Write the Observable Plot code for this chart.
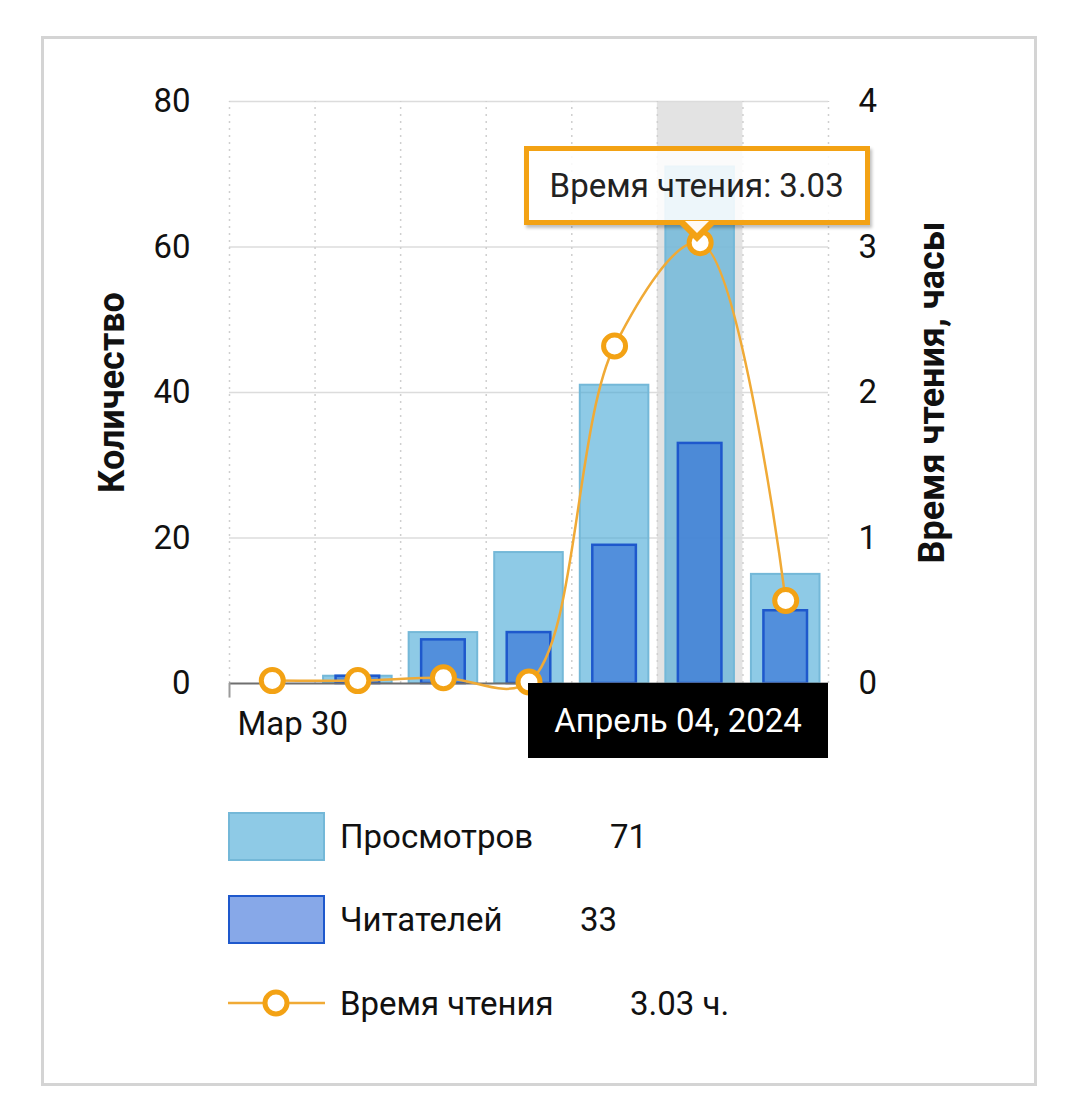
<!DOCTYPE html>
<html><head><meta charset="utf-8">
<script src="https://cdn.jsdelivr.net/npm/d3@7"></script>
<script src="https://cdn.jsdelivr.net/npm/@observablehq/plot@0.6"></script>
<style>
body{margin:0;background:#fff;font-family:Roboto,"Noto Sans",sans-serif;color:#222;}
#wrap{position:relative;width:1079px;height:1108px;overflow:hidden;}
#card{position:absolute;left:41px;top:36px;width:996px;height:1050px;border:3px solid #d4d4d4;box-sizing:border-box;}
#chart{position:absolute;left:0;top:0;}
.tip{position:absolute;box-sizing:border-box;border:5px solid #f3a214;background:rgba(255,255,255,0.86);font-size:33px;color:#222;display:flex;align-items:center;justify-content:center;box-shadow:2px 3px 3px rgba(0,0,0,0.25);}
.tip:before{content:"";position:absolute;left:50%;bottom:-22px;margin-left:-19px;border-left:19px solid transparent;border-right:19px solid transparent;border-top:19px solid #f3a214;}
.tip:after{content:"";position:absolute;left:50%;bottom:-13px;margin-left:-12px;border-left:12px solid transparent;border-right:12px solid transparent;border-top:12px solid rgba(255,255,255,0.95);}
.datebox{position:absolute;background:#000;color:#fff;font-size:33px;display:flex;align-items:center;justify-content:center;box-sizing:border-box;}
.legend{position:absolute;left:228px;top:0;font-size:33px;color:#111;}
.row{position:absolute;left:0;height:50px;display:flex;align-items:center;white-space:nowrap;}
.sw{position:absolute;left:0;width:97px;height:49px;box-sizing:border-box;}
.lab{position:absolute;left:112px;}
</style>
</head><body>
<div id="wrap"><div id="card"></div><div id="chart"></div></div>
<script>
// ---- data ----
const dates = ["Мар 30", "Мар 31", "Апр 01", "Апр 02", "Апр 03", "Апр 04", "Апр 05"];
const views = [0, 1, 7, 18, 41, 71, 15];          // Просмотров
const readers = [0, 1, 6, 7, 19, 33, 10];         // Читателей
const hours = [0.02, 0.02, 0.04, 0.01, 2.32, 3.03, 0.57]; // Время чтения, часы
const leftTicks = [0, 20, 40, 60, 80];
const rightTicks = [0, 1, 2, 3, 4];
const highlight = 5;
const highlightLabel = "Апрель 04, 2024";
const seriesNames = ["Просмотров", "Читателей", "Время чтения"];
const legendValues = ["71", "33", "3.03 ч."];
const leftTitle = "Количество";
const rightTitle = "Время чтения, часы";

const ratio = leftTicks[leftTicks.length - 1] / rightTicks[rightTicks.length - 1];
const idx = dates.map((d, i) => i);
const rows = idx.map(i => ({i, date: dates[i], views: views[i], readers: readers[i], hours: hours[i]}));

const orange = "#f3a214";

const chart = Plot.plot({
  width: 1079, height: 800,
  marginLeft: 229, marginRight: 251, marginTop: 101, marginBottom: 117,
  style: {fontFamily: "Roboto, 'Noto Sans', sans-serif", fontSize: "33px", color: "#111", background: "transparent", overflow: "visible"},
  x: {domain: [0, dates.length], axis: null},
  y: {domain: [0, 80]},
  marks: [
    Plot.rectY([highlight], {x1: d => d, x2: d => d + 1, y1: 0, y2: 80, fill: "#e3e3e3"}),
    Plot.ruleY(leftTicks.filter(t => t > 0), {stroke: "#dcdcdc", strokeWidth: 1.5}),
    Plot.ruleX(d3.range(dates.length + 1), {y1: 0, y2: 80, stroke: "#cfcfcf", strokeWidth: 1.5, strokeDasharray: "2,5"}),
    Plot.axisY({anchor: "left", ticks: leftTicks, tickSize: 0, tickPadding: 39, label: null, fontSize: 33}),
    Plot.axisY({anchor: "right", ticks: rightTicks.map(t => t * ratio), tickFormat: d => d / ratio, tickSize: 0, tickPadding: 30, label: null, fontSize: 33}),
    Plot.text([leftTitle], {frameAnchor: "left", textAnchor: "middle", rotate: -90, dx: -117, fontWeight: "bold", fontSize: 36, text: d => d, fill: "#111"}),
    Plot.text([rightTitle], {frameAnchor: "right", textAnchor: "middle", rotate: -90, dx: 104, fontWeight: "bold", fontSize: 36, text: d => d, fill: "#111"}),
    Plot.rectY(rows, {x1: d => d.i, x2: d => d.i + 1, y1: 0, y2: "views", insetLeft: 8.5, insetRight: 8.5, fill: "#43a7d5", fillOpacity: 0.6, stroke: "#74b8d8", strokeWidth: 2}),
    Plot.rectY(rows, {x1: d => d.i, x2: d => d.i + 1, y1: 0, y2: "readers", insetLeft: 21, insetRight: 21, fill: "#1d5bd4", fillOpacity: 0.53, stroke: "#1e58cc", strokeWidth: 2.5}),
    Plot.ruleY([0], {stroke: "#6f6f6f", strokeWidth: 2}),
    Plot.ruleX([0], {y1: 0, y2: -2, stroke: "#9a9a9a", strokeWidth: 2}),
    Plot.text([dates[0]], {x: 0, frameAnchor: "bottom", textAnchor: "start", dx: 8, dy: 51, text: d => d, fontSize: 33, fill: "#111"}),
    Plot.line(rows, {x: d => d.i + 0.5, y: d => d.hours * ratio, curve: "catmull-rom", stroke: "#f0aa36", strokeWidth: 2.5}),
    Plot.dot(rows, {x: d => d.i + 0.5, y: d => d.hours * ratio, r: 11, fill: "white", stroke: orange, strokeWidth: 5})
  ]
});
const holder = document.getElementById("chart");
holder.appendChild(chart);

const wrap = document.getElementById("wrap");
const sx = chart.scale("x"), sy = chart.scale("y");
const px = sx.apply(highlight + 0.5);
const py = sy.apply(hours[highlight] * ratio);
const frameRight = sx.apply(dates.length);
const frameBottom = sy.apply(0);

// tooltip
const tip = document.createElement("div");
tip.className = "tip";
const tw = 346, th = 79;
tip.style.left = (px - tw / 2 - 3) + "px";
tip.style.top = (py - 15 - th - 2) + "px";
tip.style.width = tw + "px";
tip.style.height = th + "px";
tip.textContent = seriesNames[2] + ": " + hours[highlight].toFixed(2);
wrap.appendChild(tip);

// date label
const db = document.createElement("div");
db.className = "datebox";
const dw = 300, dh = 75;
db.style.left = Math.min(px - dw / 2, frameRight - dw) + "px";
db.style.top = frameBottom + "px";
db.style.width = dw + "px";
db.style.height = dh + "px";
db.textContent = highlightLabel;
wrap.appendChild(db);

// legend
const legend = document.createElement("div");
legend.className = "legend";
const legendTops = [811, 894, 978];
const valueLefts = [382, 352, 402];
seriesNames.forEach((name, k) => {
  const r = document.createElement("div");
  r.className = "row";
  r.style.top = legendTops[k] + "px";
  r.style.width = "600px";
  let sw;
  if (k === 0) {
    sw = `<div class="sw" style="background:#8ecae6;border:2.5px solid #74b8d8"></div>`;
  } else if (k === 1) {
    sw = `<div class="sw" style="background:#87a8e8;border:2.5px solid #1e58cc"></div>`;
  } else {
    sw = `<svg class="sw" style="height:50px" width="97" height="50"><line x1="0" x2="97" y1="25" y2="25" stroke="#f0aa36" stroke-width="2.5"/><circle cx="48" cy="25" r="11" fill="white" stroke="${orange}" stroke-width="5"/></svg>`;
  }
  r.innerHTML = sw + `<span class="lab">${name}</span><span class="lab" style="left:${valueLefts[k]}px">${legendValues[k]}</span>`;
  legend.appendChild(r);
});
wrap.appendChild(legend);
</script>
</body></html>
